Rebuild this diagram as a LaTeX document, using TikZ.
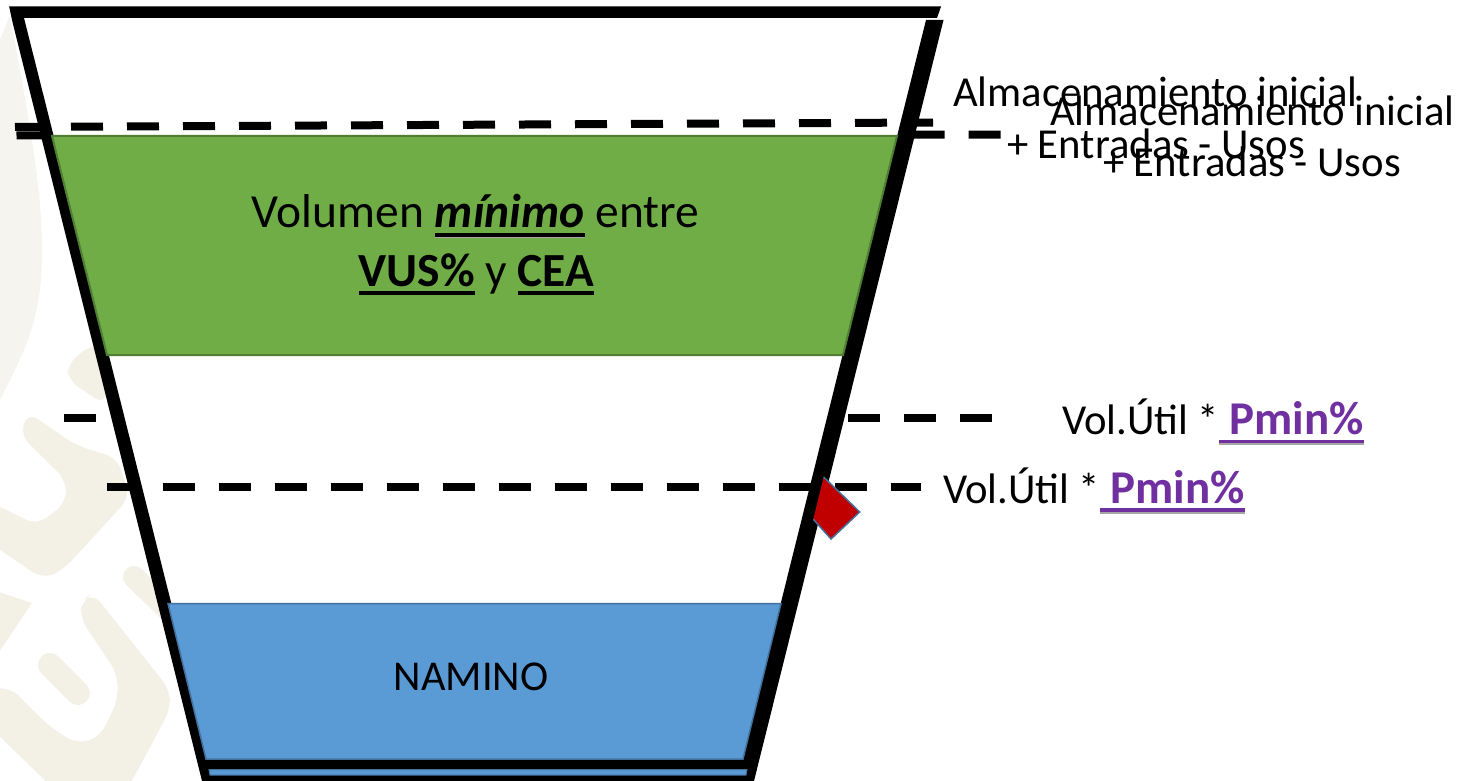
\documentclass[tikz,border=0pt]{standalone}
\usepackage{fontspec}
\setmainfont{Carlito}
\definecolor{wm}{HTML}{F3F0E6}
\definecolor{wmlight}{HTML}{F6F4EE}
\definecolor{greenf}{HTML}{70AD47}
\definecolor{greend}{HTML}{507E32}
\definecolor{bluef}{HTML}{5B9BD5}
\definecolor{blued}{HTML}{41719C}
\definecolor{redf}{HTML}{C00000}
\definecolor{purp}{HTML}{7030A0}
\newcommand\ulx[1]{\setbox0=\hbox{#1}\rlap{\rule[-0.19em]{\wd0}{0.08em}}\box0{}}
\newcommand\uls[2]{\setbox0=\hbox{#2}\rlap{\color{#1}\rule[-0.23em]{\wd0}{0.08em}}\rlap{\rule[-0.19em]{\wd0}{0.08em}}\box0{}}
\tikzset{
  dashline/.style={line width=8pt,black,dash pattern=on 32pt off 24pt},
  wmstroke/.style={wm,line cap=round},
  wmfill/.style={fill=wm,rounded corners=12pt},
  lab/.style={anchor=base west,inner sep=0pt,outer sep=0pt,font=\fontsize{42.7}{46}\selectfont},
  big/.style={anchor=base,inner sep=0pt,outer sep=0pt,font=\fontsize{47.5}{50}\selectfont},
}
\newcommand\pminText{{\color{purp}\fontsize{47}{50}\selectfont\uls{black!35}{\ \textbf{Pmin\%}}}}
\begin{document}
\begin{tikzpicture}[x=1pt,y=-1pt]
\useasboundingbox (0,0) rectangle (1464,781);
\fill[white] (0,0) rectangle (1464,781);
% watermark
\begin{scope}
\clip (0,0) rectangle (1464,781);
\fill[wmlight] (0,40) -- (10,15) .. controls (25,100) and (42,180) .. (42,250) .. controls (42,320) and (25,350) .. (0,400) -- cycle;
\path[wmfill] (90,345) -- (67,365) -- (68,380) -- (105,405) -- (110,345) -- cycle;
\path[wmfill] (28,412) -- (75,445) -- (117,458) -- (130,497) -- (63,570) -- (43,579) -- (-10,543) -- (-10,502) -- (37,525) -- (66,503) -- (66,480) -- (20,435) -- cycle;
\draw[wmstroke,line width=22pt] (134,577) -- (170,612);
\path[wmfill] (93,593) -- (170,690) -- (170,710) -- (127,790) -- (55,790) -- (-10,727) -- (-10,690) -- (10,687) -- (50,727) -- (77,744) -- (100,737) -- (118,700) -- (117,673) -- (80,618) -- (82,600) -- cycle;
\draw[wmstroke,line width=24pt] (50,665) -- (78,693);
\fill[wm] (-1,592) -- (32,603) -- (-1,652) -- cycle;
\end{scope}
% dashes behind the funnel
\draw[dashline] (16.5,135.5) -- (1002,134.5);
\draw[dashline] (64,418) -- (994,418);
% funnel interior
\fill[white] (17,12) -- (936,12) -- (745,781) -- (209,781) -- cycle;
% dashes in front
\draw[dashline] (15,127) -- (933,122.5);
\draw[dashline] (107,487) -- (921,487);
% funnel walls
\fill[black] (9.3,6.5) -- (941,6.5) -- (937,18) -- (12,18) -- cycle;
\fill[black] (9.3,6.5) -- (24,18) -- (216,781) -- (202,781) -- (12,20) -- cycle;
\fill[black] (926,20) -- (943.5,20) -- (754,781) -- (736.5,781) -- cycle;
\fill[black] (202,760) -- (750,760) -- (754,781) -- (202,781) -- cycle;
% water volumes
\fill[greenf,draw=greend,line width=2pt] (52,136) -- (897,136) -- (843,355) -- (107,355) -- cycle;
\fill[bluef,draw=blued,line width=1.5pt] (168,603.5) -- (781,603.5) -- (743,759) -- (206,759) -- cycle;
\fill[bluef,draw=blued,line width=1pt] (209,769.5) -- (747,769.5) -- (746,775) -- (210,775) -- cycle;
% red marker
\fill[redf] (823.6,477) -- (859.7,512) -- (831,539) -- (813.3,519.3) -- cycle;
\draw[blued,line width=1.5pt] (823.6,477) -- (859.7,512) -- (831,539) -- (813.3,519.3);
% texts
\node[big] (vol) at (475.5,227.5) {Volumen \uls{black!35}{\textbf{\textit{mínimo}}} entre};
\node[big] (vus) at (476.5,286) {\ulx{\textbf{VUS\%}} y \ulx{\textbf{CEA}}};
\node[lab] (alma) at (953,106.5) {Almacenamiento inicial};
\node[lab] (almb) at (1050,125.5) {Almacenamiento inicial};
\node[lab] (enta) at (1007,158.5) {+ Entradas - Usos};
\node[lab] (entb) at (1103,176.5) {+ Entradas - Usos};
\node[lab] (pa) at (1062,434.5) {Vol.Útil *\pminText};
\node[lab] (pb) at (943,503) {Vol.Útil *\pminText};
\node[anchor=base,inner sep=0pt,font=\fontsize{42.5}{44}\selectfont] (nam) at (471,690.5) {NAMINO};
\end{tikzpicture}
\end{document}
